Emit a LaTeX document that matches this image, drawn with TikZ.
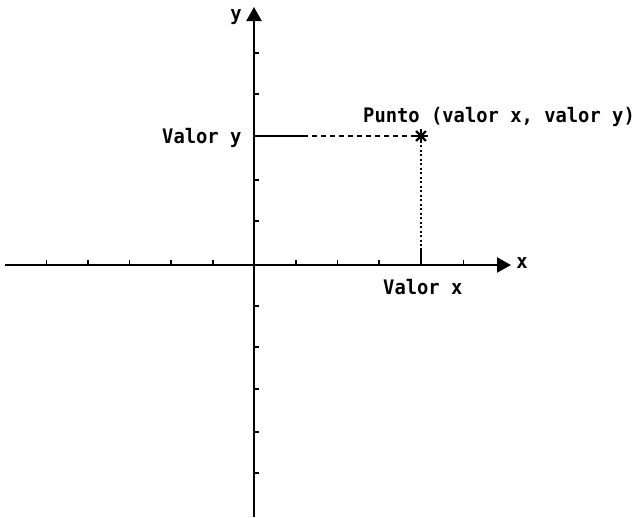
\documentclass[tikz,border=0pt]{standalone}
\usepackage{fontspec}
\setmonofont{DejaVu Sans Mono}[FakeStretch=0.94]
\usetikzlibrary{arrows.meta,calc}
\begin{document}
\begin{tikzpicture}[x=1pt,y=-1pt,
  lbl/.style={font=\ttfamily\bfseries\fontsize{20}{22}\selectfont, inner sep=0pt},
  axis/.style={line width=2.4pt, -{Triangle[length=14pt,width=15pt]}},
  tickmark/.style={line width=1.8pt},
  guide/.style={line width=1.4pt}]
\useasboundingbox (0,0) rectangle (634,517);
% axes
\coordinate (O) at (254,265);
\coordinate (xl) at (5,265);
\coordinate (xr) at (511,265);
\coordinate (yb) at (254,517);
\coordinate (yt) at (254,7);
\draw[axis] (xl) -- (xr);
\draw[axis] (yb) -- (yt);
% x ticks
\foreach \t in {46.5,88,129.5,171,213,296,337.5,379,463.5}
  \draw[tickmark] (\t,265) -- (\t,260);
% y ticks
\foreach \t in {53,94,180,221,306,347,389,432,473}
  \draw[tickmark] (254,\t) -- (259,\t);
% point and guides
\coordinate (P) at (421,136);
\coordinate (Yv) at (254,136);
\coordinate (Ys) at (303,136);
\coordinate (Xt) at (421,248);
\coordinate (Xv) at (421,265);
\draw[guide] (Yv) -- (Ys);
\draw[guide, dash pattern=on 5pt off 4pt] (Ys) -- (P);
\draw[guide, dash pattern=on 2pt off 2.5pt] (P) -- (Xt);
\draw[line width=2pt] (Xt) -- (Xv);
\foreach \a in {0,45,90,135}
  \draw[line width=2.2pt] ($(P)+(\a:7)$) -- ($(P)+(\a+180:7)$);
% labels
\node[lbl, anchor=base] (ylab) at (236,20) {y};
\node[lbl, anchor=base] (xlab) at (522,268) {x};
\node[lbl, anchor=base west] (vy) at (162,143) {Valor y};
\node[lbl, anchor=base west] (vx) at (383,294) {Valor x};
\node[lbl, anchor=base west] (pt) at (363,122) {Punto (valor x, valor y)};
\end{tikzpicture}
\end{document}
